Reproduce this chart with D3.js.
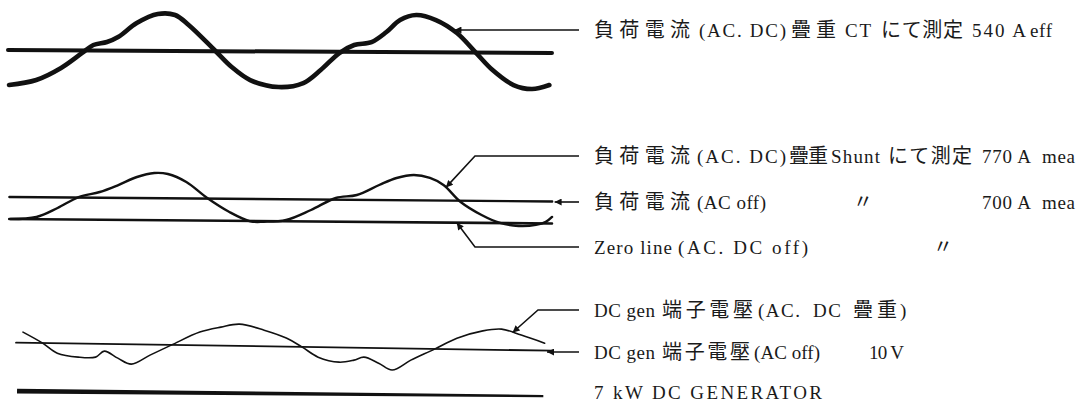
<!DOCTYPE html>
<html>
<head>
<meta charset="utf-8">
<script src="https://cdn.jsdelivr.net/npm/d3@7"></script>
<style>
  body { margin: 0; background: #fff; }
  svg { display: block; }
  .lat { font-family: "Liberation Serif", "DejaVu Serif", serif; font-size: 19px; fill: #1a1a1a; }
  .cjk { font-family: "Noto Sans CJK JP", sans-serif; font-size: 20px; fill: #1a1a1a; }
</style>
</head>
<body>
<svg id="plot" width="1086" height="405"></svg>
<script>
// sweep time, ms (about two cycles of 50 Hz)
// trace 1: load current via CT (A), AC + DC superposed
const ctT = [0.1, 2.3, 4.3, 6.0, 6.9, 8.0, 8.9, 10.4, 12.1, 13.5, 14.6, 16.7, 18.1, 19.6, 21.9,
             23.9, 25.3, 26.8, 28.0, 29.4, 30.6, 31.7, 33.0, 34.6, 36.3, 37.8, 39.2, 40.9, 42.4, 43.8];
const ctA = [-732, -624, -370, -54, 114, 178, 284, 579, 770, 751, 543, 24, -330, -600, -742,
             -656, -382, -25, 144, 209, 420, 672, 778, 676, 407, 12, -362, -673, -755, -669];
const ctZeroT = [0, 44];
const ctZeroA = [0, 0];

// trace 2: load current via shunt (A)
const shuntT = [0.2, 2.3, 4.0, 5.7, 7.4, 8.9, 10.4, 11.8, 12.9, 14.4, 16.1, 17.9, 19.6, 20.7, 22.5,
                24.5, 26.5, 28.2, 30.0, 31.4, 32.8, 34.1, 35.2, 36.6, 38.3, 39.8, 41.3, 42.7, 43.5, 44.0];
const shuntA = [0, 71, 363, 718, 883, 1110, 1370, 1501, 1473, 1224, 720, 281, -10, -20, 41,
                366, 754, 855, 1179, 1406, 1507, 1415, 1196, 660, 252, 3, -89, -51, 48, 207];
const acOffT = [0.1, 44];
const acOffA = [700, 700];
const zeroT = [0.1, 44];
const zeroA = [0, 0];

// trace 3: DC generator terminal voltage (V)
const genVT = [1.2, 2.8, 4.0, 5.7, 7.1, 7.8, 8.9, 10.0, 11.5, 13.2, 15.5, 17.2, 18.7, 20.7, 22.5,
               23.8, 25.1, 26.8, 28.0, 28.8, 30.0, 31.1, 32.6, 34.5, 36.3, 38.3, 39.9, 41.5, 43.4];
const genV = [11.06, 9.99, 9.01, 8.64, 8.67, 9.28, 8.60, 8.02, 8.95, 9.98, 11.33, 11.86, 12.18, 11.62, 10.86,
              9.98, 9.00, 8.53, 8.76, 9.07, 8.49, 7.82, 8.84, 9.98, 11.11, 11.85, 12.08, 11.51, 10.74];
const vAcOffT = [0.65, 44];
const vAcOffV = [10, 10];

// trace 4: generator reference
const genLineT = [0.73, 43.3];
const genLineV = [0, 0];

// labels
const labelTexts = [
  ["負荷電流", "(AC. DC)", "疊重", "CT", "にて測定", "540 A", "eff"],
  ["負荷電流", "(AC. DC)", "疊重", "Shunt", "にて測定", "770 A", "mea"],
  ["負荷電流", "(AC off)", "〃", "700 A", "mea"],
  ["Zero line", "(AC. DC off)", "〃"],
  ["DC gen", "端子電壓", "(AC.", "DC", "疊重", ")"],
  ["DC gen", "端子電壓", "(AC off)", "10 V"],
  ["7 kW DC GENERATOR"]
];

// ---- layout ----
const labelY = [30, 156, 202, 247, 310, 352, 392];
const labelSpans = [
  [[594, 690], [699, 786], [791, 836], [845, 871], [881, 963], [972, 1026], [1030, 1052]],
  [[594, 690], [697, 786], [789, 828], [831, 880], [888, 972], [982, 1031], [1042, 1075]],
  [[594, 690], [697, 766], [853, 863], [982, 1031], [1042, 1075]],
  [[594, 672], [678, 808], [933, 943]],
  [[594, 655], [662, 753], [758, 800], [813, 841], [853, 897], [900, 906]],
  [[594, 655], [662, 750], [754, 820], [869, 904]],
  [[594, 822]]
];

const svg = d3.select("#plot");
const ink = "#111";

const x = d3.scaleLinear().domain([0, 44]).range([8, 552]);
const y1 = d3.scaleLinear().domain([-1000, 1000]).range([97.85, 2.15]);
const y2 = d3.scaleLinear().domain([0, 700]).range([219, 197]);
const y3 = d3.scaleLinear().domain([8, 12]).range([362.5, 322.5]);
const y4 = d3.scaleLinear().domain([0, 1]).range([391, 381]);

// film is slightly skewed: each trace group is tilted about its left end
const panels = {
  ct:    { y: y1, base: 0,  tilt: 0.32 },
  shunt: { y: y2, base: 0,  tilt: 0.47 },
  volt:  { y: y3, base: 10, tilt: 0.86 },
  gen:   { y: y4, base: 0,  tilt: 0.545 }
};
Object.values(panels).forEach(p => {
  p.cx = x(0); p.cy = p.y(p.base);
  p.g = svg.append("g").attr("transform", `rotate(${p.tilt},${p.cx},${p.cy})`);
});

function project(p, t, v) {
  const a = p.tilt * Math.PI / 180;
  const dx = x(t) - p.cx, dy = p.y(v) - p.cy;
  return [p.cx + dx * Math.cos(a) - dy * Math.sin(a), p.cy + dx * Math.sin(a) + dy * Math.cos(a)];
}

function trace(p, ts, vs, width, curve) {
  const pts = ts.map((t, i) => [t, vs[i]]);
  p.g.append("path")
    .attr("d", d3.line().x(d => x(d[0])).y(d => p.y(d[1])).curve(curve || d3.curveCatmullRom)(pts))
    .attr("fill", "none").attr("stroke", ink).attr("stroke-width", width)
    .attr("stroke-linecap", "round").attr("stroke-linejoin", "round");
}

trace(panels.ct, ctZeroT, ctZeroA, 4, d3.curveLinear);
trace(panels.ct, ctT, ctA, 4.6);

trace(panels.shunt, acOffT, acOffA, 2.4, d3.curveLinear);
trace(panels.shunt, zeroT, zeroA, 2.6, d3.curveLinear);
trace(panels.shunt, shuntT, shuntA, 2.4);

trace(panels.volt, vAcOffT, vAcOffV, 1.8, d3.curveLinear);
trace(panels.volt, genVT, genV, 1.6);

// generator line: heavier at the left end
const halfW = d3.scaleLinear().domain(d3.extent(genLineT)).range([2.4, 1.1]);
panels.gen.g.append("path")
  .attr("d", d3.area()
    .x(d => x(d[0]))
    .y0(d => y4(d[1]) - halfW(d[0]))
    .y1(d => y4(d[1]) + halfW(d[0]))(genLineT.map((t, i) => [t, genLineV[i]])))
  .attr("fill", ink);

// leaders with arrowheads
svg.append("defs").append("marker")
  .attr("id", "arr").attr("viewBox", "0 0 10 10")
  .attr("refX", 10).attr("refY", 5)
  .attr("markerUnits", "userSpaceOnUse")
  .attr("markerWidth", 10).attr("markerHeight", 7)
  .attr("orient", "auto")
  .append("path").attr("d", "M0,0L10,5L0,10z").attr("fill", ink);

const interp = (ts, vs) => d3.scaleLinear().domain(ts).range(vs);
const leaders = [
  { row: 0, p: panels.ct,    f: interp(ctT, ctA),         t: 36.1,  elbow: null },
  { row: 1, p: panels.shunt, f: interp(shuntT, shuntA),   t: 35.4,  elbow: 475 },
  { row: 2, p: panels.shunt, f: interp(acOffT, acOffA),   t: 44.2,  elbow: null },
  { row: 3, p: panels.shunt, f: interp(zeroT, zeroA),     t: 36.3,  elbow: 475 },
  { row: 4, p: panels.volt,  f: interp(genVT, genV),      t: 40.8,  elbow: 538 },
  { row: 5, p: panels.volt,  f: interp(vAcOffT, vAcOffV), t: 43.6,  elbow: null }
];
leaders.forEach(l => {
  const tip = project(l.p, l.t, l.f(l.t));
  const yRow = labelY[l.row];
  const pts = [[579, yRow]];
  if (l.elbow) pts.push([l.elbow, yRow]);
  pts.push(l.elbow ? tip : [tip[0], yRow]);
  svg.append("path")
    .attr("d", d3.line()(pts))
    .attr("fill", "none").attr("stroke", ink).attr("stroke-width", 1.6)
    .attr("marker-end", "url(#arr)");
});

// label text
const isCJK = s => /[\u3000-\u9fff]/.test(s);
labelTexts.forEach((row, r) => {
  row.forEach((s, i) => {
    const [x0, x1] = labelSpans[r][i];
    const t = svg.append("text")
      .attr("class", isCJK(s) ? "cjk" : "lat")
      .attr("x", x0).attr("y", labelY[r]).attr("dy", "0.35em")
      .text(s);
    if (s.length > 1) t.attr("textLength", x1 - x0).attr("lengthAdjust", "spacing");
  });
});
</script>
</body>
</html>
